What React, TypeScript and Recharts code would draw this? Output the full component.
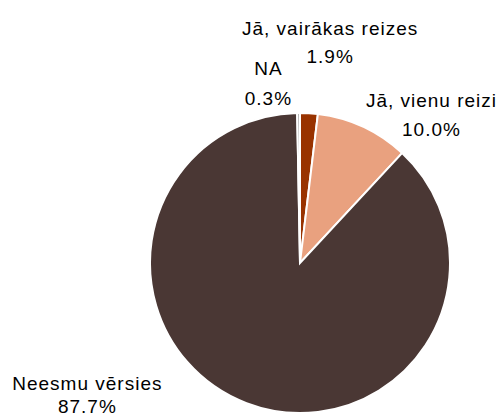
import { PieChart, Pie, Cell } from 'recharts';

const categories = ['Jā, vairākas reizes', 'Jā, vienu reizi', 'Neesmu vērsies', 'NA'];
const shares = [1.9, 10.0, 87.7, 0.3];
const sliceColors = ['#993300', '#E9A17F', '#4A3734', '#A6A6A6'];

// hand-placed label nudges (dx, dy, gap to percent line), relative to a point just outside each slice
const labelNudges: Array<[number, number, number]> = [
  [20, -58, 28],
  [60, -2, 29],
  [-152, -32, 23],
  [-30, -18, 30],
];

const data = categories.map((name, i) => ({ name, value: shares[i] }));

function SliceLabel(props: any) {
  const { cx, cy, midAngle, outerRadius, index } = props;
  const rad = (Math.PI / 180) * midAngle;
  const r = outerRadius + 20;
  const [dx, dy, gap] = labelNudges[index];
  const x = cx + r * Math.cos(rad) + dx;
  const y = cy - r * Math.sin(rad) + dy;
  return (
    <text
      x={x}
      y={y}
      textAnchor="middle"
      fill="#000"
      fontFamily="'Liberation Sans', Arial, sans-serif"
      fontSize={19}
      letterSpacing={1}
    >
      <tspan x={x} dy={0}>{categories[index]}</tspan>
      <tspan x={x} dy={gap}>{shares[index].toFixed(1)}%</tspan>
    </text>
  );
}

export default function App() {
  return (
    <div style={{ position: 'absolute', left: 0, top: 0, background: '#fff' }}>
      <PieChart width={502} height={416} margin={{ top: 0, right: 0, bottom: 0, left: 0 }}>
        <Pie
          data={data}
          dataKey="value"
          cx={300}
          cy={263}
          outerRadius={150}
          startAngle={90}
          endAngle={-270}
          stroke="#fff"
          strokeWidth={2}
          label={SliceLabel}
          labelLine={false}
          isAnimationActive={false}
        >
          {data.map((d, i) => (
            <Cell key={d.name} fill={sliceColors[i]} />
          ))}
        </Pie>
      </PieChart>
    </div>
  );
}
